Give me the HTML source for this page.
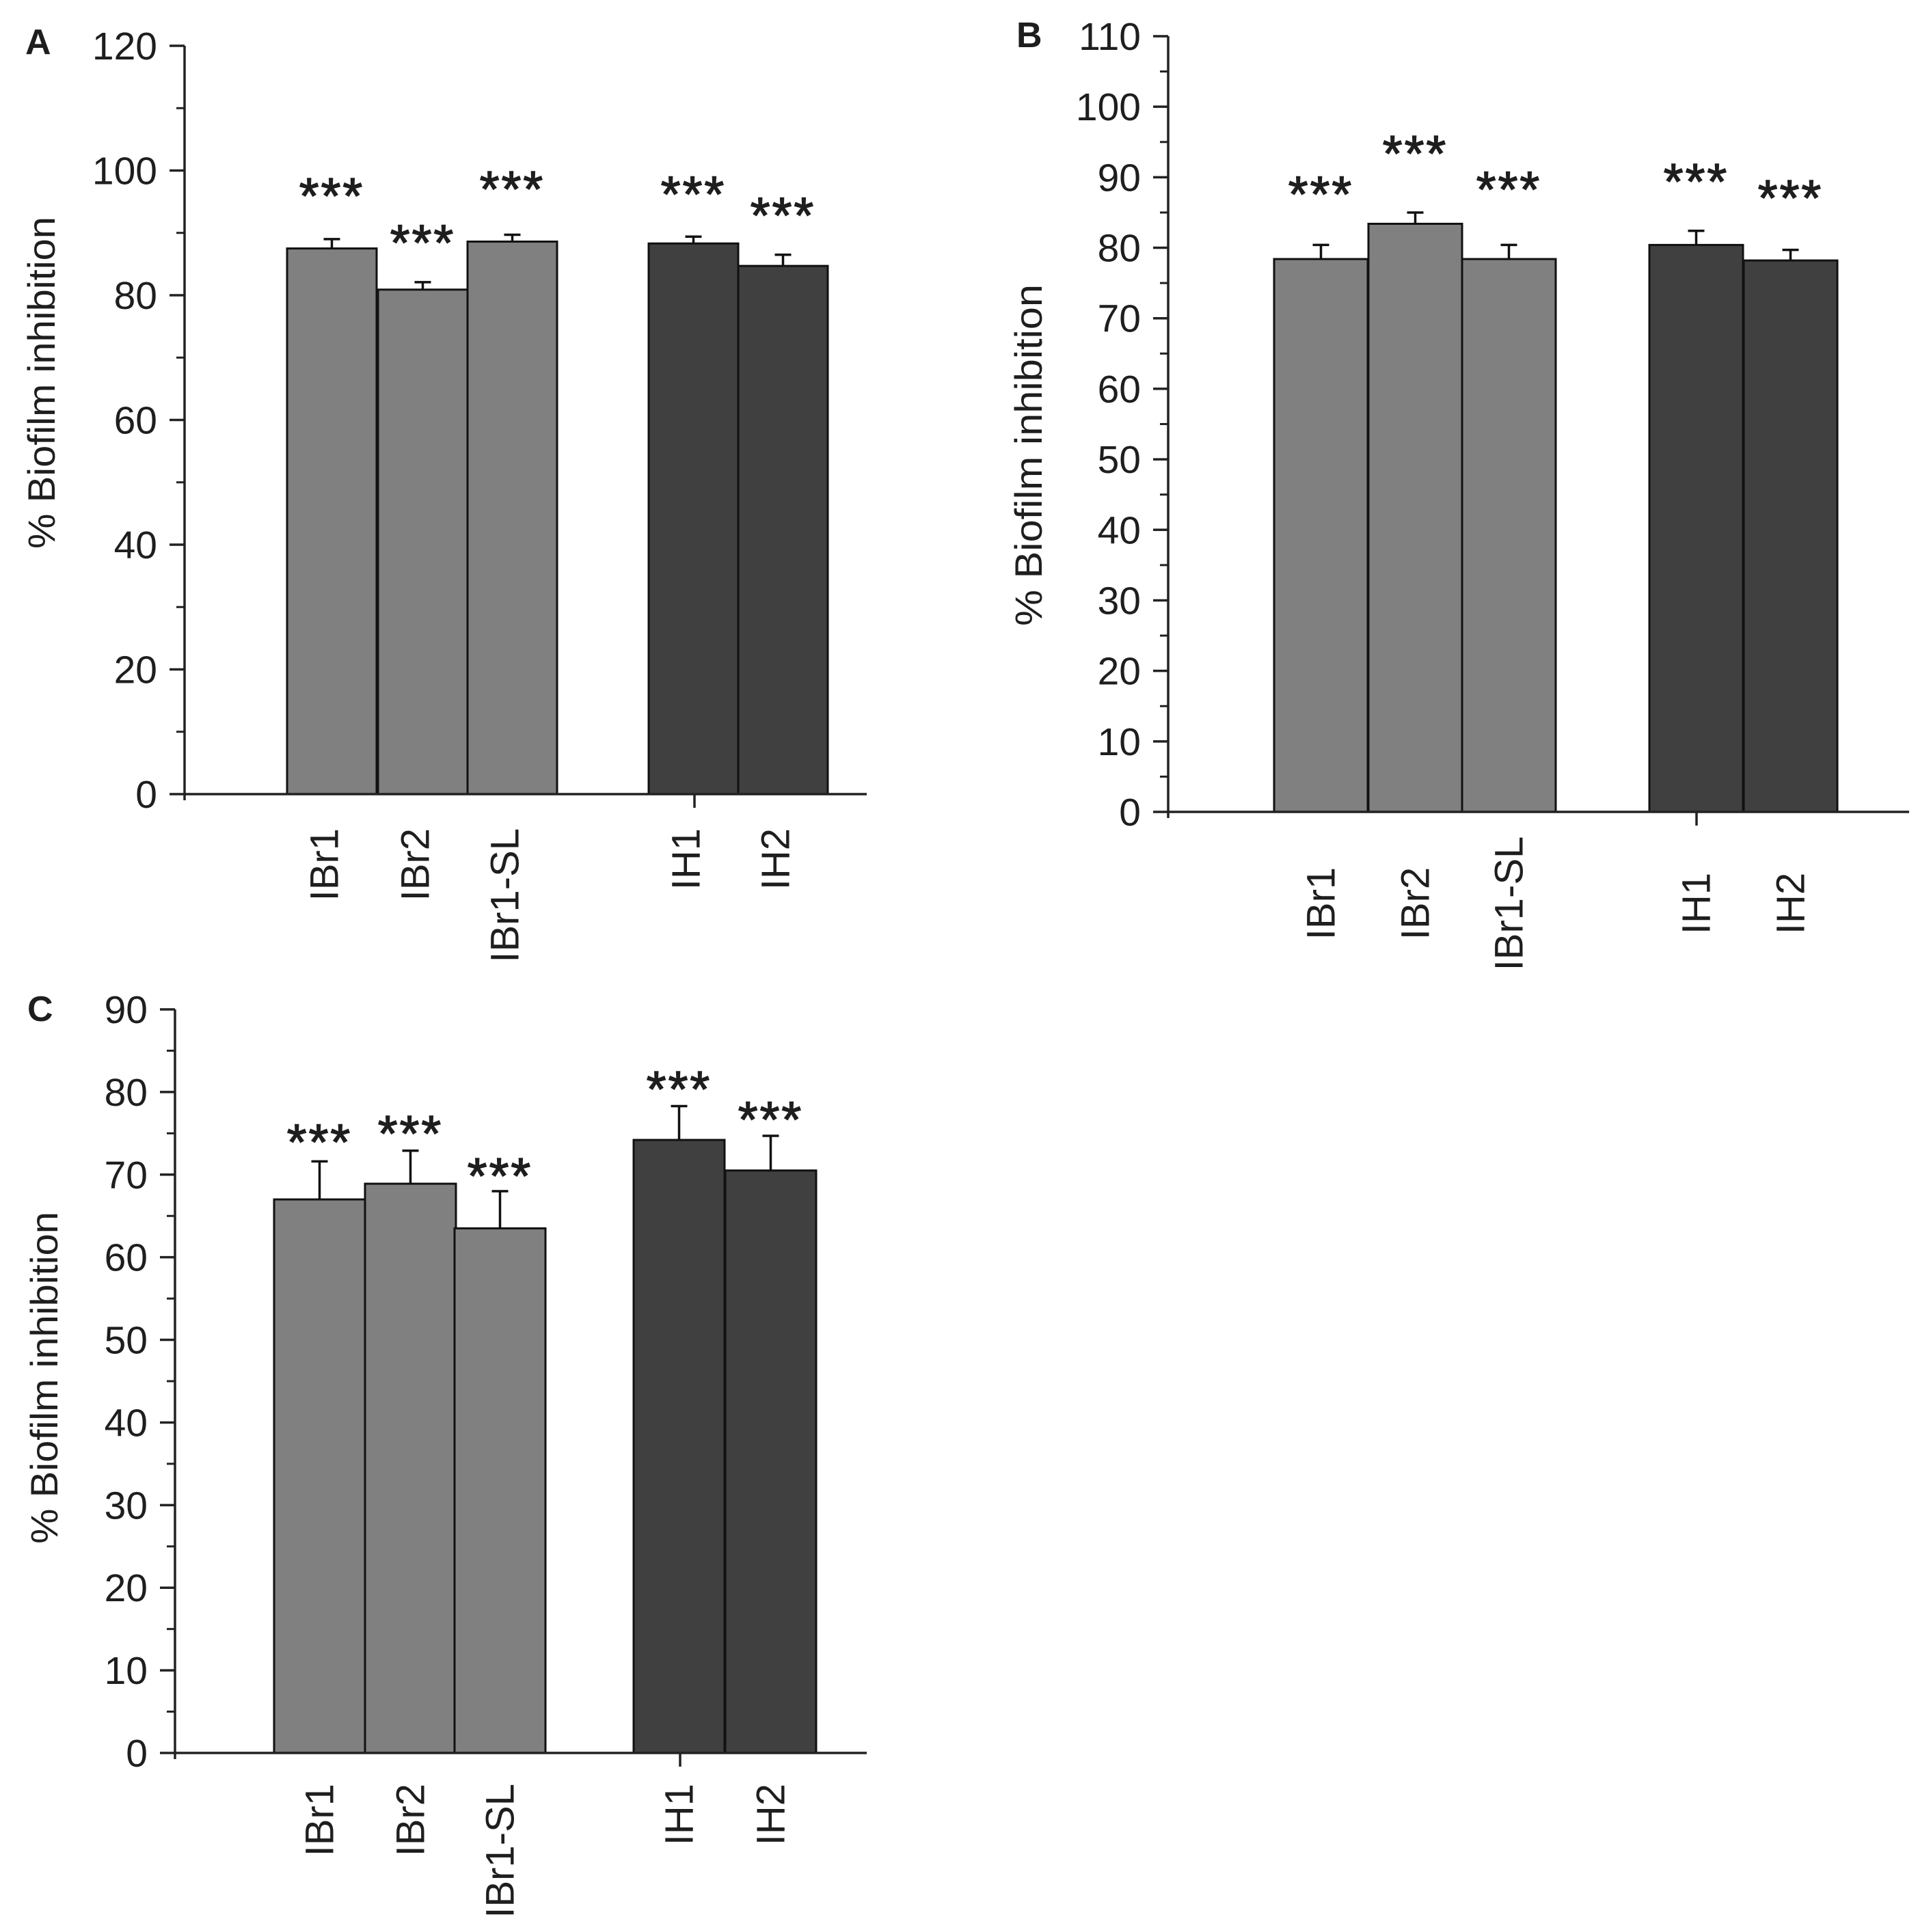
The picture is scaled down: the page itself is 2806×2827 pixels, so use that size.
<!DOCTYPE html>
<html><head><meta charset="utf-8">
<style>
html,body{margin:0;padding:0;background:#fff;}
svg{display:block;}
text{font-family:"Liberation Sans",Arial,sans-serif;fill:#1e1e1e;}
</style></head>
<body>
<svg id="fig" width="2806" height="2827" viewBox="0 0 2806 2827" xmlns="http://www.w3.org/2000/svg"></svg>
<script>
const categories = ["IBr1","IBr2","IBr1-SL","IH1","IH2"];
const groupOf = [0,0,0,1,1];
// Panel A
const valuesA = [87.5, 80.9, 88.6, 88.3, 84.7];
const errorsA = [1.5, 1.2, 1.1, 1.1, 1.8];
const starsA  = [97.3, 89.8, 98.4, 97.6, 94.2];
const ticksA  = [0,20,40,60,80,100,120];
// Panel B
const valuesB = [78.4, 83.4, 78.4, 80.4, 78.2];
const errorsB = [2.0, 1.6, 2.0, 2.0, 1.5];
const starsB  = [88.8, 94.6, 89.5, 90.6, 88.3];
const ticksB  = [0,10,20,30,40,50,60,70,80,90,100,110];
// Panel C
const valuesC = [67.0, 68.9, 63.5, 74.2, 70.5];
const errorsC = [4.6, 4.0, 4.5, 4.1, 4.2];
const starsC  = [75.0, 76.0, 70.9, 81.4, 77.7];
const ticksC  = [0,10,20,30,40,50,60,70,80,90];

const NS = "http://www.w3.org/2000/svg";
const svg = document.getElementById("fig");
function mk(tag, attrs, parent){
  const e = document.createElementNS(NS, tag);
  for (const k in attrs) e.setAttribute(k, attrs[k]);
  (parent||svg).appendChild(e);
  return e;
}

function panel(cfg, values, errors, stars, ticks){
  const g = mk("g", {});
  
  
  const y = v => cfg.y0 - (v - 0) / cfg.max * (cfg.y0 - cfg.yTop);
  const bx = i => cfg.barX[i];
  values.forEach((v,i)=>{
    const r = mk("rect", {x:bx(i), y:y(v), width:cfg.barW, height:cfg.y0 - y(v),
      fill: groupOf[i] ? "#404040" : "#808080", stroke:"#111", "stroke-width":3}, g);
    
    
    const cx = bx(i) + cfg.barW/2;
    const eb = mk("path", {d:`M${cx},${y(v)} V${y(v+errors[i])} M${cx-12},${y(v+errors[i])} H${cx+12}`,
      stroke:"#111", "stroke-width":3.5, fill:"none"}, g);
    
    
    const st = mk("text", {x:cx, y:y(stars[i]) + 38, "text-anchor":"middle", "font-size":74, "letter-spacing":3,
      stroke:"#1e1e1e", "stroke-width":1.5}, g);
    st.textContent = "***";
    
    
    const lb = mk("text", {transform:`translate(${cx + cfg.lblDx},${cfg.lblY}) rotate(-90)`,
      "text-anchor":cfg.lblAnchor, "font-size":58}, g);
    lb.textContent = categories[i];
    
    
  });
  const ax = mk("path", {d:`M${cfg.ax},${cfg.yTop} V${cfg.y0+9} M${cfg.ax},${cfg.y0} H${cfg.xEnd} M${cfg.tickX},${cfg.y0} V${cfg.y0+20}`,
    stroke:"#222", "stroke-width":3.5, fill:"none"}, g);
  
  
  ticks.forEach((t,k)=>{
    const tk = mk("line", {x1:cfg.ax-22, x2:cfg.ax, y1:y(t), y2:y(t), stroke:"#222", "stroke-width":3.5}, g);
    
    
    if (k < ticks.length-1){
      const m = (t + ticks[k+1])/2;
      const mt = mk("line", {x1:cfg.ax-12, x2:cfg.ax, y1:y(m), y2:y(m), stroke:"#222", "stroke-width":3}, g);
      
      
    }
    const tl = mk("text", {x:cfg.ax-40, y:y(t)+20, "text-anchor":"end", "font-size":57}, g);
    tl.textContent = t;
    
    
  });
  const ti = mk("text", {transform:`translate(${cfg.titleX},${cfg.titleY}) rotate(-90)`, "text-anchor":"middle",
    "font-size":56, textLength:cfg.titleLen, lengthAdjust:"spacingAndGlyphs"}, g);
  ti.textContent = "% Biofilm inhibition";
  
  
  const le = mk("text", {x:cfg.letterX, y:cfg.letterY, "font-size":52, "font-weight":"bold"}, g);
  le.textContent = cfg.letter;
  
  
}

panel({letter:"A", ax:270, y0:1162, yTop:67, max:120, barX:[420,553,684,949,1080], barW:131,
  xEnd:1268, tickX:1016, lblDx:9, lblY:1212, lblAnchor:"end", titleX:80, titleY:560, titleLen:486, letterX:37, letterY:79},
  valuesA, errorsA, starsA, ticksA);
panel({letter:"B", ax:1709, y0:1188, yTop:53, max:110, barX:[1864,2002,2139,2413,2551], barW:137,
  xEnd:2793, tickX:2482, lblDx:20, lblY:1322, lblAnchor:"middle", titleX:1524, titleY:666, titleLen:500, letterX:1487, letterY:69},
  valuesB, errorsB, starsB, ticksB);
panel({letter:"C", ax:256, y0:2565, yTop:1477, max:90, barX:[401,534,665,927,1061], barW:133,
  xEnd:1268, tickX:995, lblDx:20, lblY:2610, lblAnchor:"end", titleX:84, titleY:2016, titleLen:486, letterX:40, letterY:1494},
  valuesC, errorsC, starsC, ticksC);
</script>
</body></html>
